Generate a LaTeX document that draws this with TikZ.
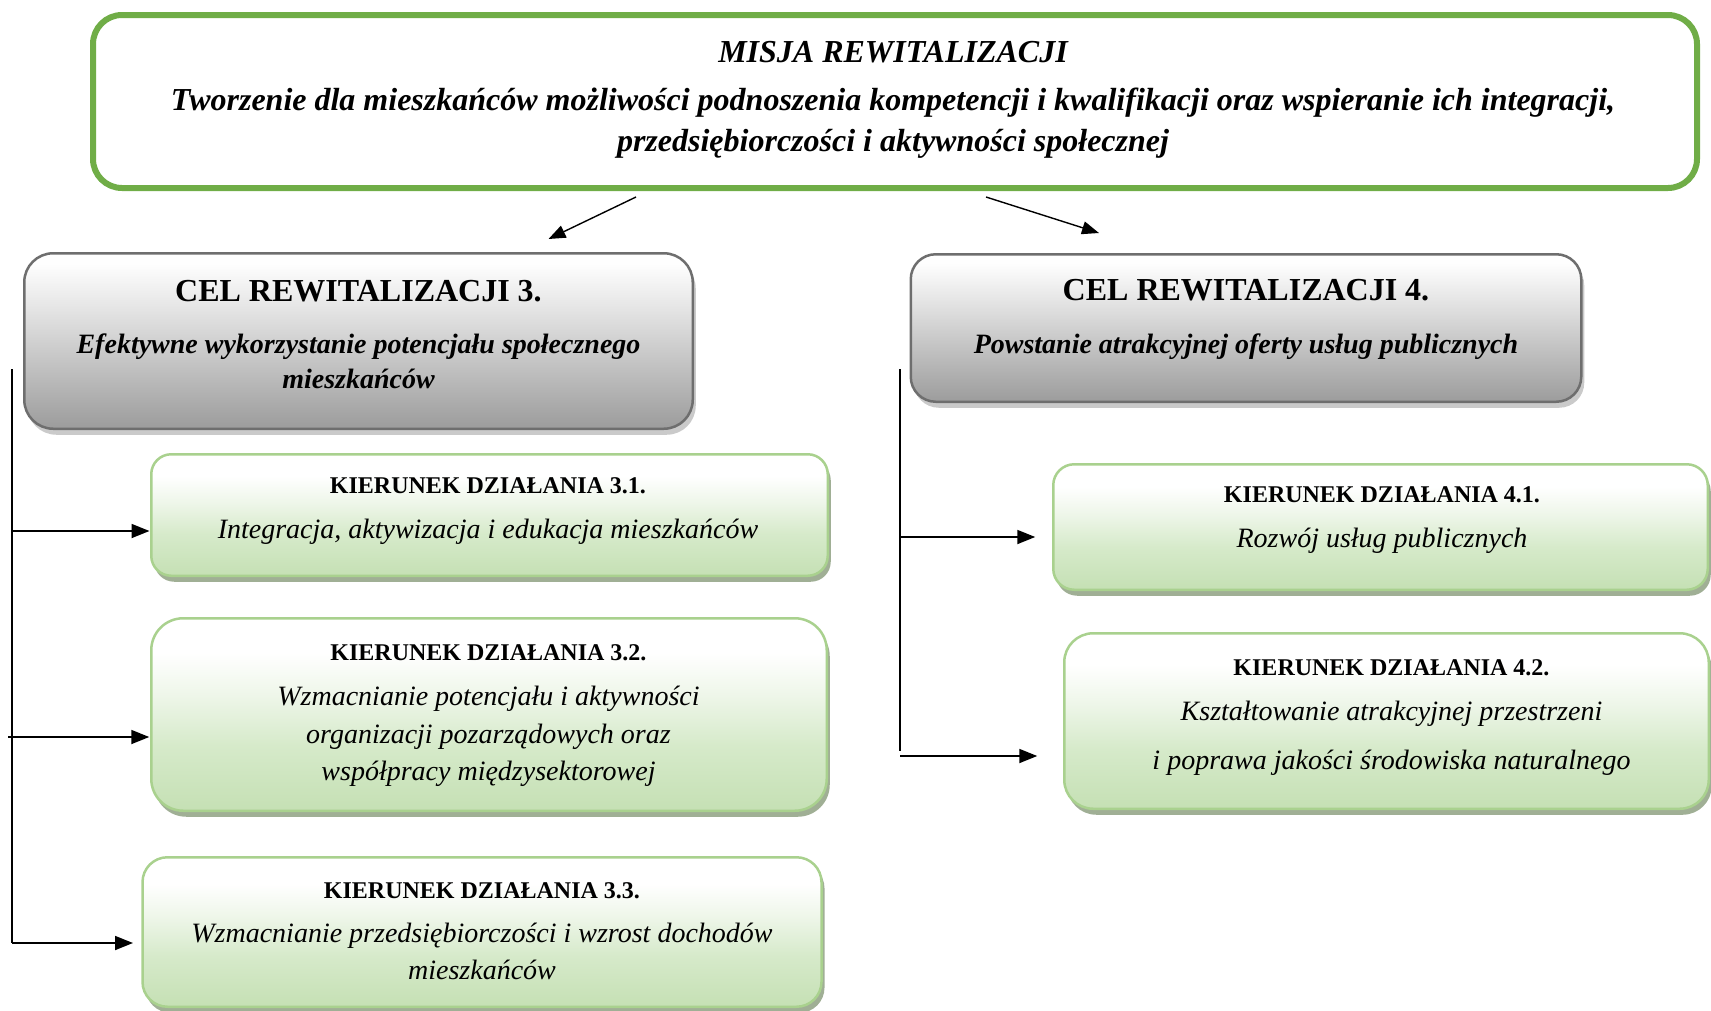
\documentclass[tikz,border=0pt]{standalone}
\usepackage{fontspec}
\setmainfont{Liberation Serif}
\usetikzlibrary{arrows.meta,shadows,shadings,calc}
\definecolor{misgreen}{HTML}{70AD47}
\definecolor{celborder}{HTML}{6E6E6E}
\definecolor{celshadow}{HTML}{CACACA}
\definecolor{kborder}{HTML}{A9D18E}
\definecolor{kshadow}{HTML}{A0AF95}
\definecolor{gtop}{HTML}{FEFEFE}
\definecolor{gmidA}{HTML}{E6E6E6}
\definecolor{gmidB}{HTML}{C6C6C6}
\definecolor{gbot}{HTML}{9C9C9C}
\definecolor{ktop}{HTML}{FFFFFF}
\definecolor{kmidA}{HTML}{EEF6E9}
\definecolor{kmidB}{HTML}{D6EACA}
\definecolor{kbot}{HTML}{C5E0B4}
\pgfdeclareverticalshading{greyfill}{100bp}{color(0bp)=(gbot); color(25bp)=(gbot); color(45bp)=(gmidB); color(60bp)=(gmidA); color(72bp)=(gtop); color(100bp)=(gtop)}
\pgfdeclareverticalshading{greenfill}{100bp}{color(0bp)=(kbot); color(25bp)=(kbot); color(42bp)=(kmidB); color(55bp)=(kmidA); color(66bp)=(ktop); color(100bp)=(ktop)}
\begin{document}
\begin{tikzpicture}[x=1pt,y=-1pt,
  conn/.style={line width=1.8pt,-{Triangle[length=18pt,width=14pt]}},
  mconn/.style={line width=1.4pt,-{Triangle[length=17pt,width=13pt]}},
  spine/.style={line width=1.9pt},
  boxbase/.style={rectangle,inner sep=0pt,outer sep=0pt},
  missionbox/.style={boxbase,draw=misgreen,line width=6pt,fill=white},
  celbox/.style={boxbase,draw=celborder,line width=2.5pt,shade,shading=greyfill,
    drop shadow={shadow xshift=3pt,shadow yshift=-6pt,fill=celshadow,opacity=1}},
  kbox/.style={boxbase,draw=kborder,line width=2.5pt,shade,shading=greenfill,
    drop shadow={shadow xshift=3pt,shadow yshift=-6pt,fill=kshadow,opacity=1}},
  txt/.style={align=center,inner sep=0pt,text=black},
  mtxt/.style={txt,font=\fontsize{32}{41}\selectfont\bfseries\itshape},
  ctxt/.style={txt,font=\fontsize{28}{35}\selectfont\bfseries},
  ktxt/.style={txt,font=\fontsize{28}{37.5}\selectfont\itshape},
]
\useasboundingbox (0,0) rectangle (1711,1010);
\newcommand{\celtitle}[1]{{\fontsize{32}{35}\selectfont\upshape #1}}
\newcommand{\ktitle}[1]{{\fontsize{24}{37.5}\selectfont\bfseries\upshape #1}}

% boxes
\node[missionbox,minimum width=1604pt,minimum height=173pt,rounded corners=29pt] (mission) at (895,101.5) {};
\node[celbox,minimum width=668.5pt,minimum height=175.5pt,rounded corners=29pt] (cel3) at (358.5,341) {};
\node[celbox,minimum width=670.5pt,minimum height=147.5pt,rounded corners=25pt] (cel4) at (1246,328) {};
\node[kbox,minimum width=676.5pt,minimum height=121.5pt,rounded corners=20pt] (b31) at (489.5,515) {};
\node[kbox,minimum width=675.5pt,minimum height=192.5pt,rounded corners=32pt] (b32) at (489,714.5) {};
\node[kbox,minimum width=679pt,minimum height=149.5pt,rounded corners=25pt] (b33) at (482,932) {};
\node[kbox,minimum width=654.5pt,minimum height=125.5pt,rounded corners=21pt] (b41) at (1380.5,527) {};
\node[kbox,minimum width=644.5pt,minimum height=175.5pt,rounded corners=29pt] (b42) at (1386.5,721) {};

% texts
\node[mtxt] (mt) at (893,99.5) {MISJA REWITALIZACJI\\[7pt]
  Tworzenie dla mieszkańców możliwości podnoszenia kompetencji i kwalifikacji oraz wspieranie ich integracji,\\
  przedsiębiorczości i aktywności społecznej};
\node[ctxt] (c3t) at (358.5,334.4) {\celtitle{CEL REWITALIZACJI 3.}\\[17pt]
  {\itshape Efektywne wykorzystanie potencjału społecznego}\\
  {\itshape mieszkańców}};
\node[ctxt] (c4t) at (1246,319.4) {\celtitle{CEL REWITALIZACJI 4.}\\[18pt]
  {\itshape Powstanie atrakcyjnej oferty usług publicznych}};
\node[ktxt] (k31t) at (488,511) {\ktitle{KIERUNEK DZIAŁANIA 3.1.}\\[7pt]
  Integracja, aktywizacja i edukacja mieszkańców};
\node[ktxt] (k32t) at (488.5,716) {\ktitle{KIERUNEK DZIAŁANIA 3.2.}\\[7.5pt]
  Wzmacnianie potencjału i aktywności\\
  organizacji pozarządowych oraz\\
  współpracy międzysektorowej};
\node[ktxt,font=\fontsize{28}{37}\selectfont\itshape] (k33t) at (482,931) {\ktitle{KIERUNEK DZIAŁANIA 3.3.}\\[7pt]
  Wzmacnianie przedsiębiorczości i wzrost dochodów\\
  mieszkańców};
\node[ktxt] (k41t) at (1382,520) {\ktitle{KIERUNEK DZIAŁANIA 4.1.}\\[8pt]
  Rozwój usług publicznych};
\node[ktxt,font=\fontsize{28}{49}\selectfont\itshape] (k42t) at (1391.5,718) {\ktitle{KIERUNEK DZIAŁANIA 4.2.}\\[-4pt]
  Kształtowanie atrakcyjnej przestrzeni\\
  i poprawa jakości środowiska naturalnego};

% connectors from mission
\coordinate (m3s) at (636,197);
\coordinate (m3e) at (548.5,239);
\coordinate (m4s) at (986,197);
\coordinate (m4e) at (1099,233);
\draw[mconn] (m3s) -- (m3e);
\draw[mconn] (m4s) -- (m4e);

% left spine
\coordinate (ltop) at (12,369);
\coordinate (lbot) at (12,943);
\coordinate (j31) at (12,531);
\coordinate (j32) at (8,737);
\draw[spine] (ltop) -- (lbot);
\draw[conn] (j31) -- ($(j31 -| b31.west)+(-1.75,0)$);
\draw[conn] (j32) -- ($(j32 -| b32.west)+(-2,0)$);
\draw[conn] (lbot) -- ($(lbot -| b33.west)+(-9.5,0)$);

% right spine
\coordinate (rtop) at (900,369);
\coordinate (rbot) at (900,751);
\coordinate (j41) at (900,537);
\coordinate (j42) at (900,756);
\draw[spine] (rtop) -- (rbot);
\draw[conn] (j41) -- ($(j41 -| b41.west)+(-18,0)$);
\draw[conn] (j42) -- ($(j42 -| b42.west)+(-27,0)$);
\end{tikzpicture}
\end{document}
